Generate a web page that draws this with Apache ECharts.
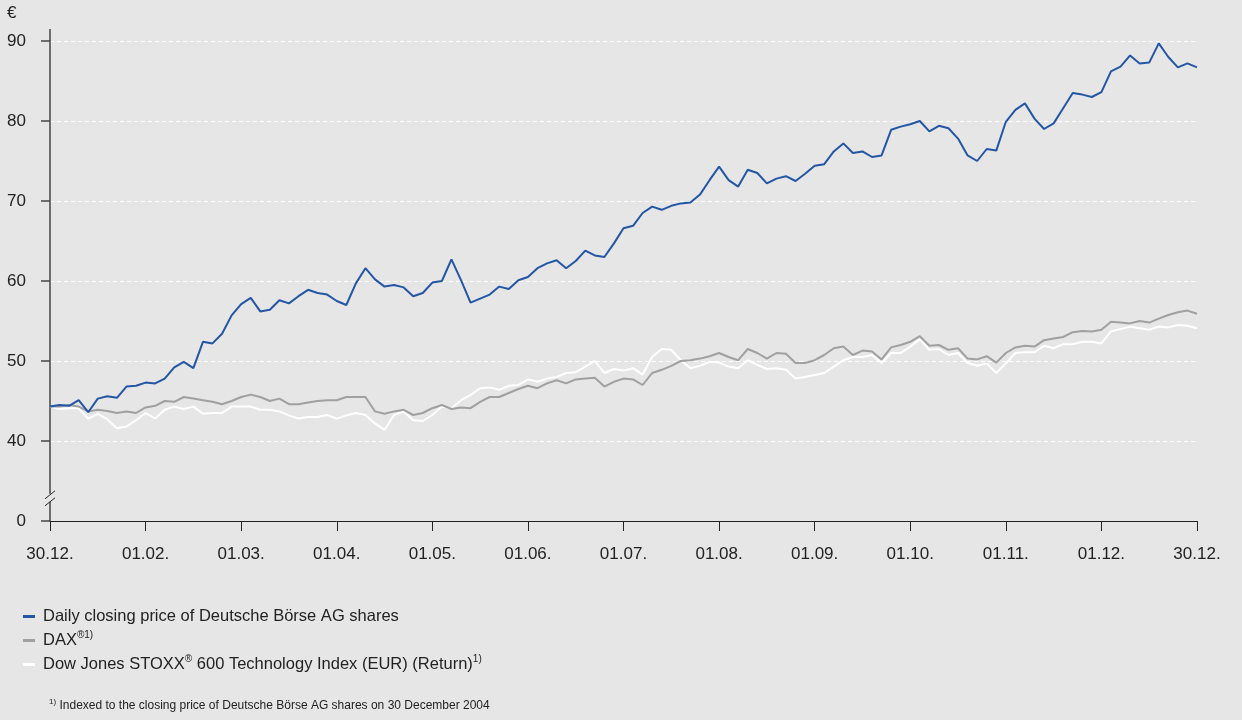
<!DOCTYPE html>
<html>
<head>
<meta charset="utf-8">
<script src="https://cdn.jsdelivr.net/npm/echarts@6/dist/echarts.min.js"></script>
<style>
html,body{margin:0;padding:0;background:#e6e6e6;}
#chart{width:1242px;height:720px;}
</style>
</head>
<body>
<div id="chart"></div>
<script>
// Tick labels on the x axis (one every 10 samples)
const tickLabels = ['30.12.','01.02.','01.03.','01.04.','01.05.','01.06.','01.07.','01.08.','01.09.','01.10.','01.11.','01.12.','30.12.'];
const samplesPerTick = 10;

// Y axis tick labels (the bottom tick is the broken-axis zero)
const yTickLabels = {30:'0',40:'40',50:'50',60:'60',70:'70',80:'80',90:'90'};

const seriesNames = [
  'Daily closing price of Deutsche Börse AG shares',
  'DAX',
  'Dow Jones STOXX 600 Technology Index (EUR) (Return)'
];

const deutscheBoerse = [
44.3,44.5,44.4,45.1,43.6,45.3,45.6,45.4,46.8,46.9,
47.3,47.2,47.8,49.2,49.9,49.1,52.4,52.2,53.4,55.7,
57.1,57.9,56.2,56.4,57.6,57.2,58.1,58.9,58.5,58.3,
57.5,57.0,59.7,61.6,60.2,59.3,59.5,59.2,58.1,58.5,
59.8,60.0,62.7,60.1,57.3,57.8,58.3,59.3,59.0,60.1,
60.5,61.6,62.2,62.6,61.6,62.5,63.8,63.2,63.0,64.7,
66.6,66.9,68.5,69.3,68.9,69.4,69.7,69.8,70.8,72.6,
74.3,72.6,71.8,73.9,73.5,72.2,72.8,73.1,72.5,73.4,
74.4,74.6,76.2,77.2,76.0,76.2,75.5,75.7,78.9,79.3,
79.6,80.0,78.7,79.4,79.1,77.8,75.7,75.0,76.5,76.3,
79.9,81.4,82.2,80.3,79.0,79.7,81.6,83.5,83.3,83.0,
83.6,86.2,86.8,88.2,87.2,87.3,89.7,88.0,86.7,87.2,
86.7];

const dax = [
44.3,44.3,44.5,44.3,43.7,43.9,43.75,43.5,43.7,43.5,
44.2,44.4,45.0,44.9,45.5,45.3,45.1,44.9,44.6,45.0,
45.5,45.8,45.5,45.0,45.3,44.6,44.6,44.8,45.0,45.1,
45.1,45.5,45.5,45.5,43.7,43.4,43.7,43.9,43.25,43.5,
44.1,44.5,44.0,44.2,44.1,44.9,45.5,45.5,46.0,46.5,
46.9,46.6,47.2,47.6,47.2,47.7,47.8,47.9,46.8,47.4,
47.8,47.7,47.0,48.5,48.9,49.4,50.0,50.1,50.3,50.6,
51.0,50.5,50.1,51.5,51.0,50.3,51.0,50.9,49.75,49.75,
50.1,50.75,51.6,51.8,50.75,51.3,51.2,50.2,51.7,52.0,
52.4,53.1,51.9,52.0,51.4,51.6,50.3,50.2,50.6,49.8,
51.0,51.7,51.9,51.8,52.6,52.8,53.0,53.6,53.75,53.7,
53.9,54.9,54.8,54.7,55.0,54.8,55.3,55.75,56.1,56.3,
55.9];

const stoxxTech = [
44.3,44.0,44.1,44.1,42.8,43.4,42.7,41.6,41.8,42.6,
43.5,42.8,43.9,44.3,44.0,44.3,43.4,43.5,43.5,44.3,
44.3,44.3,43.9,43.9,43.7,43.2,42.8,43.0,43.0,43.25,
42.8,43.2,43.5,43.25,42.2,41.4,43.25,43.7,42.6,42.5,
43.25,44.3,44.1,45.1,45.75,46.6,46.7,46.4,46.9,47.0,
47.7,47.4,47.8,48.0,48.5,48.6,49.3,50.0,48.5,49.0,
48.8,49.1,48.3,50.5,51.5,51.4,50.1,49.1,49.4,49.9,
49.8,49.3,49.1,50.1,49.5,49.0,49.1,48.9,47.8,48.0,
48.25,48.5,49.3,50.1,50.5,50.5,50.75,49.75,51.0,51.0,
51.8,52.7,51.4,51.5,50.75,51.0,49.75,49.4,49.7,48.5,
49.7,51.0,51.1,51.1,51.9,51.6,52.1,52.1,52.4,52.4,
52.2,53.7,54.0,54.3,54.1,53.9,54.3,54.2,54.5,54.4,
54.1];

const categories = deutscheBoerse.map((_, i) => String(i));

const FONT = '"Liberation Sans", Arial, sans-serif';
const TXT = '#222';

const legendLabels = {
  'Daily closing price of Deutsche Börse AG shares': '{n|Daily closing price of Deutsche Börse AG shares}',
  'DAX': '{n|DAX}{sup|®1)}',
  'Dow Jones STOXX 600 Technology Index (EUR) (Return)': '{n|Dow Jones STOXX}{sup|®}{n| 600 Technology Index (EUR) (Return)}{sup|1)}'
};

const chart = echarts.init(document.getElementById('chart'));
const option = {
  backgroundColor: '#e6e6e6',
  animation: false,
  textStyle: {fontFamily: FONT, color: TXT},
  grid: {left: 50, right: 45, top: 41, bottom: 199, containLabel: false},
  xAxis: {
    type: 'category',
    data: categories,
    boundaryGap: false,
    axisLine: {show: true, lineStyle: {color: '#222', width: 1}},
    axisTick: {show: true, length: 10, lineStyle: {color: '#222', width: 1},
      interval: (idx) => idx % samplesPerTick === 0},
    axisLabel: {
      interval: (idx) => idx % samplesPerTick === 0,
      formatter: (v, idx) => tickLabels[idx / samplesPerTick] || '',
      fontSize: 17, color: TXT, fontFamily: FONT, margin: 25
    },
    splitLine: {show: false}
  },
  yAxis: {
    type: 'value',
    min: 30, max: 90, interval: 10,
    axisLine: {show: true, lineStyle: {color: '#444', width: 1.5}},
    axisTick: {show: true, inside: false, length: 9, lineStyle: {color: '#444', width: 1.5}},
    axisLabel: {formatter: (v) => yTickLabels[v] || '', fontSize: 17, color: TXT, fontFamily: FONT, margin: 24},
    splitLine: {show: true, lineStyle: {color: '#ffffff', type: [4, 3], width: 1}}
  },
  legend: {
    orient: 'vertical',
    left: 23, top: 608, padding: 0,
    itemWidth: 12, itemHeight: 3, itemGap: 5.5,
    icon: 'rect',
    data: seriesNames,
    formatter: (name) => legendLabels[name],
    textStyle: {
      fontFamily: FONT, color: TXT, padding: [0, 0, 0, 3],
      rich: {
        n: {fontSize: 16.5, lineHeight: 20, fontFamily: FONT, color: TXT},
        sup: {fontSize: 10, lineHeight: 12, verticalAlign: 'top', fontFamily: FONT, color: TXT}
      }
    },
    selectedMode: false
  },
  series: [
    {name: seriesNames[2], type: 'line', data: stoxxTech, showSymbol: false, symbol: 'none',
     lineStyle: {color: '#ffffff', width: 2}, itemStyle: {color: '#ffffff'}, z: 2},
    {name: seriesNames[1], type: 'line', data: dax, showSymbol: false, symbol: 'none',
     lineStyle: {color: '#a0a0a0', width: 2}, itemStyle: {color: '#a0a0a0'}, z: 3},
    {name: seriesNames[0], type: 'line', data: deutscheBoerse, showSymbol: false, symbol: 'none',
     lineStyle: {color: '#2456a6', width: 2}, itemStyle: {color: '#2456a6'}, z: 4}
  ]
};
chart.setOption(option);

// decorations: euro sign, axis extension above 90, axis break, footnote
const axX = chart.convertToPixel({xAxisIndex: 0}, 0);
const y90 = chart.convertToPixel({yAxisIndex: 0}, 90);
const yBreak = chart.convertToPixel({yAxisIndex: 0}, 32.9);
chart.setOption({
  graphic: [
    {type: 'text', left: 7, top: 5, style: {text: '€', font: '17px ' + FONT, fill: TXT}},
    {type: 'line', shape: {x1: axX, y1: y90, x2: axX, y2: y90 - 12}, style: {stroke: '#444', lineWidth: 1.5}},
    {type: 'rect', shape: {x: axX - 3, y: yBreak - 4, width: 6, height: 8}, style: {fill: '#e6e6e6'}, z: 100},
    {type: 'line', shape: {x1: axX - 5, y1: yBreak + 1, x2: axX + 5, y2: yBreak - 7}, style: {stroke: '#222', lineWidth: 1}, z: 101},
    {type: 'line', shape: {x1: axX - 5, y1: yBreak + 8, x2: axX + 5, y2: yBreak}, style: {stroke: '#222', lineWidth: 1}, z: 101},
    {type: 'text', left: 49, top: 698, style: {
      text: '{s|1)}{n| Indexed to the closing price of Deutsche Börse AG shares on 30 December 2004}',
      rich: {
        s: {fontSize: 8, lineHeight: 9, verticalAlign: 'top', fontFamily: FONT, fill: TXT},
        n: {fontSize: 12, lineHeight: 16, fontFamily: FONT, fill: TXT}
      }
    }}
  ]
});
</script>
</body>
</html>
